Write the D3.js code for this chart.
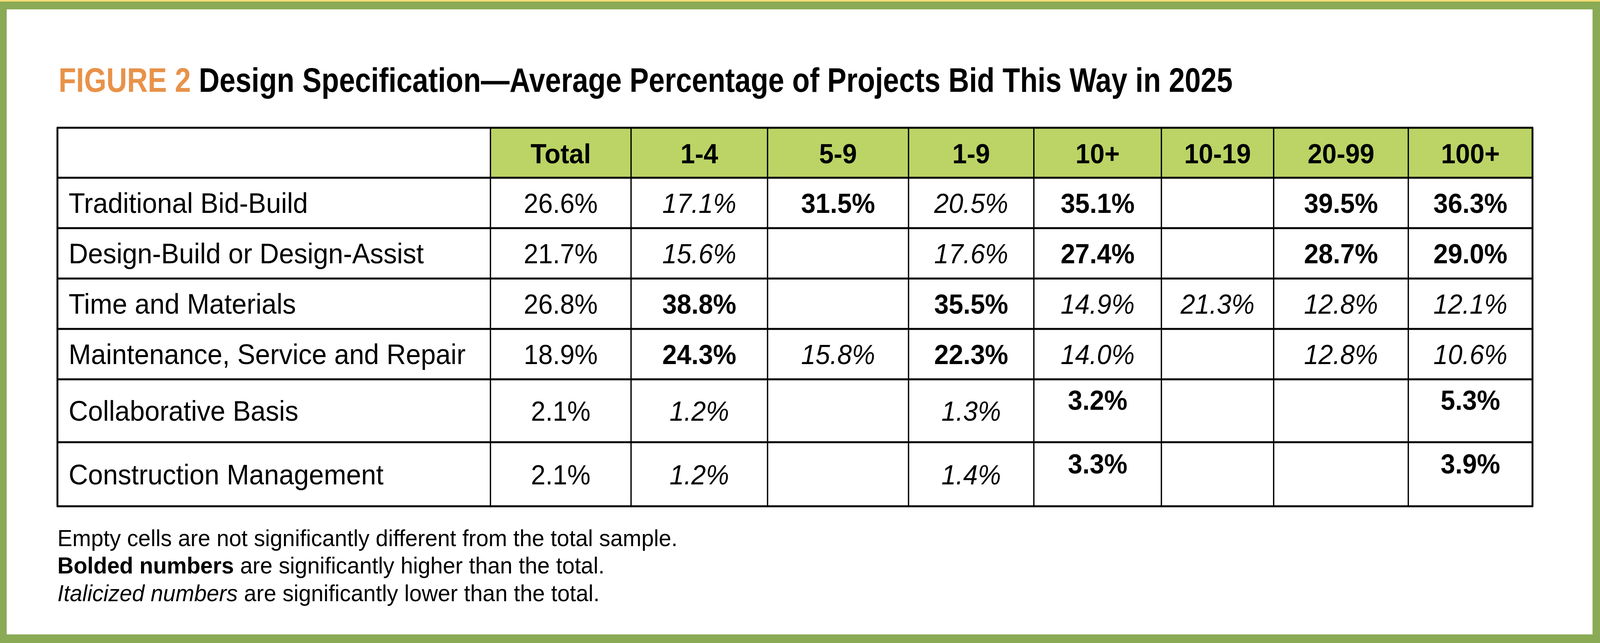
<!DOCTYPE html>
<html><head><meta charset="utf-8">
<script src="https://cdn.jsdelivr.net/npm/d3@7"></script>
<style>html,body{margin:0;padding:0;background:#fff;overflow:hidden}svg{display:block;width:100vw;height:100vh}</style>
</head><body>
<script>
const columns = ["Total","1-4","5-9","1-9","10+","10-19","20-99","100+"];
const categories = ["Traditional Bid-Build","Design-Build or Design-Assist","Time and Materials","Maintenance, Service and Repair","Collaborative Basis","Construction Management"];
// value strings per row, "" = empty
const values = [
 ["26.6%","17.1%","31.5%","20.5%","35.1%","","39.5%","36.3%"],
 ["21.7%","15.6%","","17.6%","27.4%","","28.7%","29.0%"],
 ["26.8%","38.8%","","35.5%","14.9%","21.3%","12.8%","12.1%"],
 ["18.9%","24.3%","15.8%","22.3%","14.0%","","12.8%","10.6%"],
 ["2.1%","1.2%","","1.3%","3.2%","","","5.3%"],
 ["2.1%","1.2%","","1.4%","3.3%","","","3.9%"]
];
// n = normal, b = bold (higher), i = italic (lower)
const styles = [
 ["n","i","b","i","b","","b","b"],
 ["n","i","","i","b","","b","b"],
 ["n","b","","b","i","i","i","i"],
 ["n","b","i","b","i","","i","i"],
 ["n","i","","i","b","","","b"],
 ["n","i","","i","b","","","b"]
];
const notes = [
 [{t:"Empty cells are not significantly different from the total sample.",s:"n"}],
 [{t:"Bolded numbers",s:"b"},{t:" are significantly higher than the total.",s:"n"}],
 [{t:"Italicized numbers",s:"i"},{t:" are significantly lower than the total.",s:"n"}]
];

const W=4290,H=1646;
const svg=d3.select("body").append("svg").attr("viewBox",`0 0 ${W} ${H}`).attr("preserveAspectRatio","none");
const FONT="'Liberation Sans', Arial, sans-serif";
svg.append("rect").attr("width",W).attr("height",H).attr("fill","#8aaa56");
svg.append("rect").attr("x",0).attr("y",0).attr("width",W).attr("height",4).attr("fill","#f3dc73");
svg.append("rect").attr("x",18).attr("y",24).attr("width",4270-18).attr("height",1624-24).attr("fill","#fff");

// title
const title=svg.append("text").attr("x",157).attr("y",235).attr("font-family",FONT).attr("font-weight","bold").attr("font-size",88)
  .attr("textLength",3148).attr("lengthAdjust","spacingAndGlyphs");
title.append("tspan").attr("fill","#e8924a").text("FIGURE 2 ");
title.append("tspan").attr("fill","#000").text("Design Specification\u2014Average Percentage of Projects Bid This Way in 2025");

// layout
const colEdges=[154,1315,1692,2058,2436,2772,3114,3415,3776,4109];
const rowEdges=[327,455,584,713,842,971,1132,1296];
const x=d3.scaleOrdinal().domain(d3.range(colEdges.length)).range(colEdges);
const y=d3.scaleOrdinal().domain(d3.range(rowEdges.length)).range(rowEdges);

const g=svg.append("g");
columns.forEach((c,i)=>{
  g.append("rect").attr("x",x(i+1)).attr("y",y(0)).attr("width",x(i+2)-x(i+1)).attr("height",y(1)-y(0)).attr("fill","#bbd465");
  g.append("text").attr("x",(x(i+1)+x(i+2))/2).attr("y",418).attr("text-anchor","middle")
   .attr("font-family",FONT).attr("font-weight","bold").attr("font-size",70).text(c);
});
categories.forEach((c,r)=>{
  const base=(y(r+1)+y(r+2))/2+26;
  g.append("text").attr("x",184).attr("y",base).attr("font-family",FONT).attr("font-size",72).text(c);
  values[r].forEach((v,ci)=>{
    if(!v) return;
    const st=styles[r][ci];
    const off=(r>=4 && st==="b")?-28:0;
    g.append("text").attr("x",(x(ci+1)+x(ci+2))/2).attr("y",base+off).attr("text-anchor","middle")
     .attr("font-family",FONT).attr("font-size",70)
     .attr("font-weight",st==="b"?"bold":"normal").attr("font-style",st==="i"?"italic":"normal").text(v);
  });
});
rowEdges.forEach(yy=>g.append("line").attr("x1",colEdges[0]-2).attr("x2",colEdges[colEdges.length-1]+2).attr("y1",yy).attr("y2",yy).attr("stroke","#000").attr("stroke-width",5));
colEdges.forEach((xx,i)=>g.append("line").attr("x1",xx).attr("x2",xx).attr("y1",rowEdges[0]).attr("y2",rowEdges[rowEdges.length-1]).attr("stroke","#000").attr("stroke-width",(i===0||i===colEdges.length-1)?5:3.5));

notes.forEach((parts,i)=>{
  const t=svg.append("text").attr("x",154).attr("y",1398+i*70.5).attr("font-family",FONT).attr("font-size",60);
  parts.forEach(p=>t.append("tspan").attr("font-weight",p.s==="b"?"bold":"normal").attr("font-style",p.s==="i"?"italic":"normal").text(p.t));
});
</script>
</body></html>
